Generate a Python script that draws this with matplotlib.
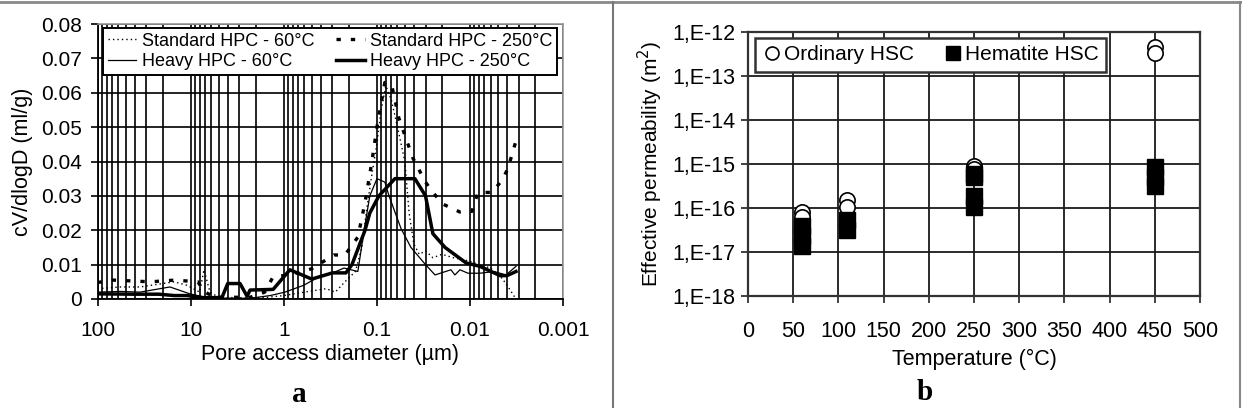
import matplotlib
matplotlib.use('Agg')
import matplotlib.pyplot as plt
from matplotlib.lines import Line2D
from matplotlib.ticker import LogLocator, NullLocator, FixedLocator, FixedFormatter

plt.rcParams['font.family'] = ['Liberation Sans', 'DejaVu Sans']

# ---------------- Panel a data (pore access diameter in um, cV/dlogD in ml/g)
std60_d = [100, 57, 35, 20, 15, 11, 8, 7.2, 6.2, 5, 2.5, 1.5, 1, 0.6, 0.35, 0.28, 0.22,
           0.17, 0.145, 0.13, 0.115, 0.1, 0.09, 0.08, 0.07, 0.06, 0.05, 0.045, 0.04,
           0.035, 0.03, 0.025, 0.02, 0.015, 0.01, 0.008, 0.006, 0.0045, 0.004, 0.0032]
std60_v = [0.003, 0.0035, 0.0035, 0.0045, 0.005, 0.004, 0.002, 0.0085, 0.002, 0.0005,
           0.0003, 0.0005, 0.001, 0.002, 0.003, 0.002, 0.005, 0.008, 0.015, 0.025, 0.035,
           0.045, 0.055, 0.062, 0.058, 0.05, 0.04, 0.025, 0.016, 0.013, 0.014, 0.012,
           0.013, 0.012, 0.011, 0.01, 0.009, 0.006, 0.004, 0.0]

std250_d = [100, 68, 27, 14.8, 8.4, 7.0, 5.5, 2.3, 1.6, 1.3, 0.86, 0.50, 0.29, 0.22, 0.16,
            0.134, 0.113, 0.0997, 0.082, 0.069, 0.058, 0.041, 0.030, 0.025, 0.0195,
            0.0128, 0.0095, 0.0082, 0.0058, 0.0045, 0.0039, 0.0032]
std250_v = [0.0048, 0.0055, 0.005, 0.0055, 0.005, 0.002, 0.0005, 0.0005, 0.002, 0.0065,
            0.007, 0.0088, 0.0128, 0.0128, 0.018, 0.028, 0.040, 0.050, 0.063, 0.062,
            0.0526, 0.041, 0.034, 0.031, 0.0276, 0.0253, 0.0255, 0.031, 0.031, 0.0346,
            0.038, 0.046]

heavy60_d = [100, 57, 35, 16.7, 10.2, 6.4, 2.3, 1.4, 0.97, 0.61, 0.45, 0.275, 0.225, 0.16,
             0.137, 0.119, 0.0997, 0.082, 0.074, 0.055, 0.043, 0.030, 0.0237, 0.016,
             0.0145, 0.0128, 0.0105, 0.0078, 0.0055, 0.0041, 0.0032]
heavy60_v = [0.002, 0.0022, 0.002, 0.0035, 0.0015, 0.0003, 0.0002, 0.001, 0.002, 0.004,
             0.006, 0.008, 0.009, 0.008, 0.02, 0.03, 0.035, 0.034, 0.030, 0.0205, 0.015,
             0.010, 0.007, 0.0085, 0.007, 0.0085, 0.0075, 0.0075, 0.008, 0.007, 0.0095]

heavy250_d = [100, 40, 22, 15, 11, 7.5, 5.2, 4.6, 4.0, 2.95, 2.48, 2.3, 1.3, 0.86, 0.50,
              0.30, 0.215, 0.185, 0.134, 0.119, 0.095, 0.064, 0.039, 0.030, 0.025,
              0.0185, 0.011, 0.0078, 0.00475, 0.0040, 0.0032]
heavy250_v = [0.0015, 0.0014, 0.0014, 0.0010, 0.0010, 0.0004, 0.0004, 0.0005, 0.0045,
              0.0045, 0.0008, 0.0026, 0.0028, 0.0085, 0.0058, 0.0076, 0.0076, 0.010,
              0.020, 0.025, 0.030, 0.035, 0.035, 0.030, 0.019, 0.015, 0.0105, 0.0095,
              0.0068, 0.0068, 0.0080]

a_xticks = [100, 10, 1, 0.1, 0.01, 0.001]
a_xticklabels = ['100', '10', '1', '0.1', '0.01', '0.001']
a_yticks = [0, 0.01, 0.02, 0.03, 0.04, 0.05, 0.06, 0.07, 0.08]
a_yticklabels = ['0', '0.01', '0.02', '0.03', '0.04', '0.05', '0.06', '0.07', '0.08']

# ---------------- Panel b data (temperature in C, permeability in m2)
ord_T = [60, 60, 110, 110, 250, 250, 450, 450]
ord_k = [8.0e-17, 6.2e-17, 1.5e-16, 1.05e-16, 9.0e-16, 7.6e-16, 4.6e-13, 3.2e-13]
hem_T = [60, 60, 60, 110, 110, 250, 250, 250, 250, 450, 450, 450]
hem_k = [3.8e-17, 2.3e-17, 1.4e-17, 5.3e-17, 3.2e-17, 6.0e-16, 4.9e-16, 1.85e-16,
         1.07e-16, 8.4e-16, 5.0e-16, 3.1e-16]
b_xticks = [0, 50, 100, 150, 200, 250, 300, 350, 400, 450, 500]
b_yticks = [1e-18, 1e-17, 1e-16, 1e-15, 1e-14, 1e-13, 1e-12]
b_yticklabels = ['1,E-18', '1,E-17', '1,E-16', '1,E-15', '1,E-14', '1,E-13', '1,E-12']

W, H = 1242, 408
fig = plt.figure(figsize=(W / 100, H / 100), dpi=100)


def fx(px):
    return px / W


def fy(py):
    return 1 - py / H


# ---------------- Panel a
axL = fig.add_axes([fx(97.6), fy(299), fx(563) - fx(97.6), fy(24) - fy(299)])
axL.set_xscale('log')
axL.set_xlim(100, 0.001)
axL.set_ylim(0, 0.08)
axL.xaxis.set_major_locator(FixedLocator(a_xticks))
axL.xaxis.set_major_formatter(FixedFormatter(a_xticklabels))
axL.xaxis.set_minor_locator(LogLocator(base=10, subs=range(2, 10), numticks=50))
axL.set_yticks(a_yticks)
axL.set_yticklabels(a_yticklabels)
axL.set_axisbelow(True)
axL.grid(which='major', axis='both', color='black', lw=1.2)
axL.grid(which='minor', axis='x', color='black', lw=1.2)
axL.tick_params(axis='both', which='major', labelsize=15, length=5, width=1.2,
                direction='out', color='black')
axL.tick_params(axis='x', which='minor', length=0)
axL.tick_params(axis='x', pad=11)
axL.tick_params(axis='y', pad=6)
for s in ['left', 'bottom']:
    axL.spines[s].set_color('black')
    axL.spines[s].set_linewidth(1.3)
for s in ['top', 'right']:
    axL.spines[s].set_color('#999999')
    axL.spines[s].set_linewidth(1.2)

l1, = axL.plot(std60_d, std60_v, color='black', lw=1.0, ls=(0, (1, 2.2)),
               label='Standard HPC - 60°C')
l2, = axL.plot(std250_d, std250_v, color='black', lw=2.4, ls=(0, (1.3, 3)),
               label='Standard HPC - 250°C')
l3, = axL.plot(heavy60_d, heavy60_v, color='black', lw=0.9,
               label='Heavy HPC - 60°C')
l4, = axL.plot(heavy250_d, heavy250_v, color='black', lw=2.5,
               label='Heavy HPC - 250°C')
axL.set_xlabel('Pore access diameter (µm)', fontsize=15.5, labelpad=3)
axL.set_ylabel('cV/dlogD (ml/g)', fontsize=15.5, labelpad=6)

legL = axL.legend(handles=[l1, l3, l2, l4], ncol=2, loc='upper left',
                  bbox_to_anchor=(0.0116, 0.985), borderaxespad=0, fontsize=13,
                  frameon=True, fancybox=False, framealpha=1, edgecolor='black',
                  handlelength=1.6, handletextpad=0.3, columnspacing=1.2,
                  labelspacing=0.2, borderpad=0.25)
legL.get_frame().set_linewidth(1.4)

# ---------------- Panel b
axR = fig.add_axes([fx(748), fy(296), fx(1200) - fx(748), fy(31.7) - fy(296)])
axR.set_yscale('log')
axR.set_xlim(0, 500)
axR.set_ylim(1e-18, 1e-12)
axR.set_xticks(b_xticks)
axR.yaxis.set_major_locator(FixedLocator(b_yticks))
axR.yaxis.set_major_formatter(FixedFormatter(b_yticklabels))
axR.yaxis.set_minor_locator(NullLocator())
axR.set_axisbelow(True)
axR.grid(True, which='major', color='#1a1a1a', lw=1.3)
axR.tick_params(axis='both', which='major', labelsize=15.5, length=5, width=1.3,
                direction='out', color='#333333')
axR.tick_params(axis='x', pad=13)
axR.tick_params(axis='y', pad=4)
for s in ['left', 'bottom', 'top', 'right']:
    axR.spines[s].set_color('#333333')
    axR.spines[s].set_linewidth(1.6)

pO = axR.plot(ord_T, ord_k, ls='none', marker='o', markersize=11,
              markerfacecolor='white', markeredgecolor='black', markeredgewidth=1.2,
              label='Ordinary HSC', zorder=3)[0]
pH = axR.plot(hem_T, hem_k, ls='none', marker='s', markersize=12,
              markerfacecolor='black', markeredgecolor='black',
              label='Hematite HSC', zorder=4)[0]
axR.set_xlabel('Temperature (°C)', fontsize=15.5, labelpad=5)
axR.set_ylabel('Effective permeability (m$^2$)', fontsize=15, labelpad=5)

legR = axR.legend(handles=[pO, pH], ncol=2, loc='upper left',
                  bbox_to_anchor=(0.0155, 0.976), borderaxespad=0, fontsize=15,
                  frameon=True, fancybox=False, framealpha=1, edgecolor='#333333',
                  handlelength=0.9, handletextpad=0.15, columnspacing=1.4,
                  borderpad=0.35, markerscale=0.85)
legR.get_frame().set_linewidth(1.8)

# ---------------- panel letters
fig.text(fx(299), fy(394), 'a', fontsize=21, fontweight='bold',
         family=['Liberation Serif', 'DejaVu Serif'], ha='center', va='center')
fig.text(fx(925), fy(392), 'b', fontsize=21, fontweight='bold',
         family=['Liberation Serif', 'DejaVu Serif'], ha='center', va='center')

# ---------------- frame lines
fig.add_artist(Line2D([0, 1], [fy(2), fy(2)], transform=fig.transFigure,
                      color='#888888', lw=2))
fig.add_artist(Line2D([fx(613), fx(613)], [0, fy(2)], transform=fig.transFigure,
                      color='#777777', lw=1.5))
fig.add_artist(Line2D([fx(1240), fx(1240)], [0, fy(2)], transform=fig.transFigure,
                      color='#888888', lw=1.5))

fig.savefig('out.png', dpi=100)
